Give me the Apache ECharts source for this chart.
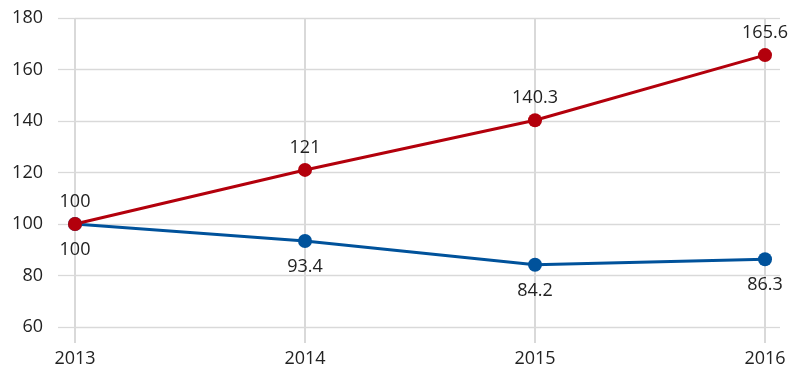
<!DOCTYPE html>
<html><head><meta charset="utf-8">
<script src="https://cdn.jsdelivr.net/npm/echarts@6/dist/echarts.min.js"></script>
<style>html,body{margin:0;padding:0;background:#fff}#c{width:802px;height:384px}</style>
</head><body><div id="c"></div>
<script>
const years = ['2013', '2014', '2015', '2016'];
const blueValues = [100, 93.4, 84.2, 86.3];
const redValues = [100, 121, 140.3, 165.6];
const yTicks = [60, 80, 100, 120, 140, 160, 180];

const gridColor = '#d9d9d9';
const font = '"Open Sans", "Noto Sans", sans-serif';
const fs = 18;
const chart = echarts.init(document.getElementById('c'));
chart.setOption({
  animation: false,
  grid: {left: 75, right: 37, top: 18, bottom: 57},
  xAxis: {
    type: 'category', data: years, boundaryGap: false,
    axisLine: {show: false},
    axisTick: {show: true, length: 16, lineStyle: {color: gridColor, width: 2}},
    splitLine: {show: true, lineStyle: {color: gridColor, width: 2}},
    axisLabel: {margin: 23, fontSize: fs, color: '#222', fontFamily: font}
  },
  yAxis: [{
    type: 'value', min: yTicks[0], max: yTicks[yTicks.length - 1], interval: 20,
    axisLine: {show: false},
    axisTick: {show: true, length: 17, lineStyle: {color: gridColor, width: 1.3}},
    splitLine: {show: true, lineStyle: {color: gridColor, width: 1.3}},
    axisLabel: {margin: 32, fontSize: fs, color: '#222', fontFamily: font}
  }, {
    type: 'value', position: 'right', min: yTicks[0], max: yTicks[yTicks.length - 1], interval: 20,
    axisLine: {show: false},
    axisTick: {show: true, length: 15, lineStyle: {color: gridColor, width: 1.3}},
    splitLine: {show: false},
    axisLabel: {show: false}
  }],
  series: [{
    type: 'line', data: blueValues, symbol: 'circle', symbolSize: 14,
    lineStyle: {color: '#00529b', width: 3}, itemStyle: {color: '#00529b'},
    label: {show: true, position: 'bottom', distance: 10, fontSize: fs, color: '#222', fontFamily: font}
  }, {
    type: 'line', data: redValues, symbol: 'circle', symbolSize: 14,
    lineStyle: {color: '#b3000c', width: 3}, itemStyle: {color: '#b3000c'},
    label: {show: true, position: 'top', distance: 6, fontSize: fs, color: '#222', fontFamily: font}
  }]
});
</script></body></html>
